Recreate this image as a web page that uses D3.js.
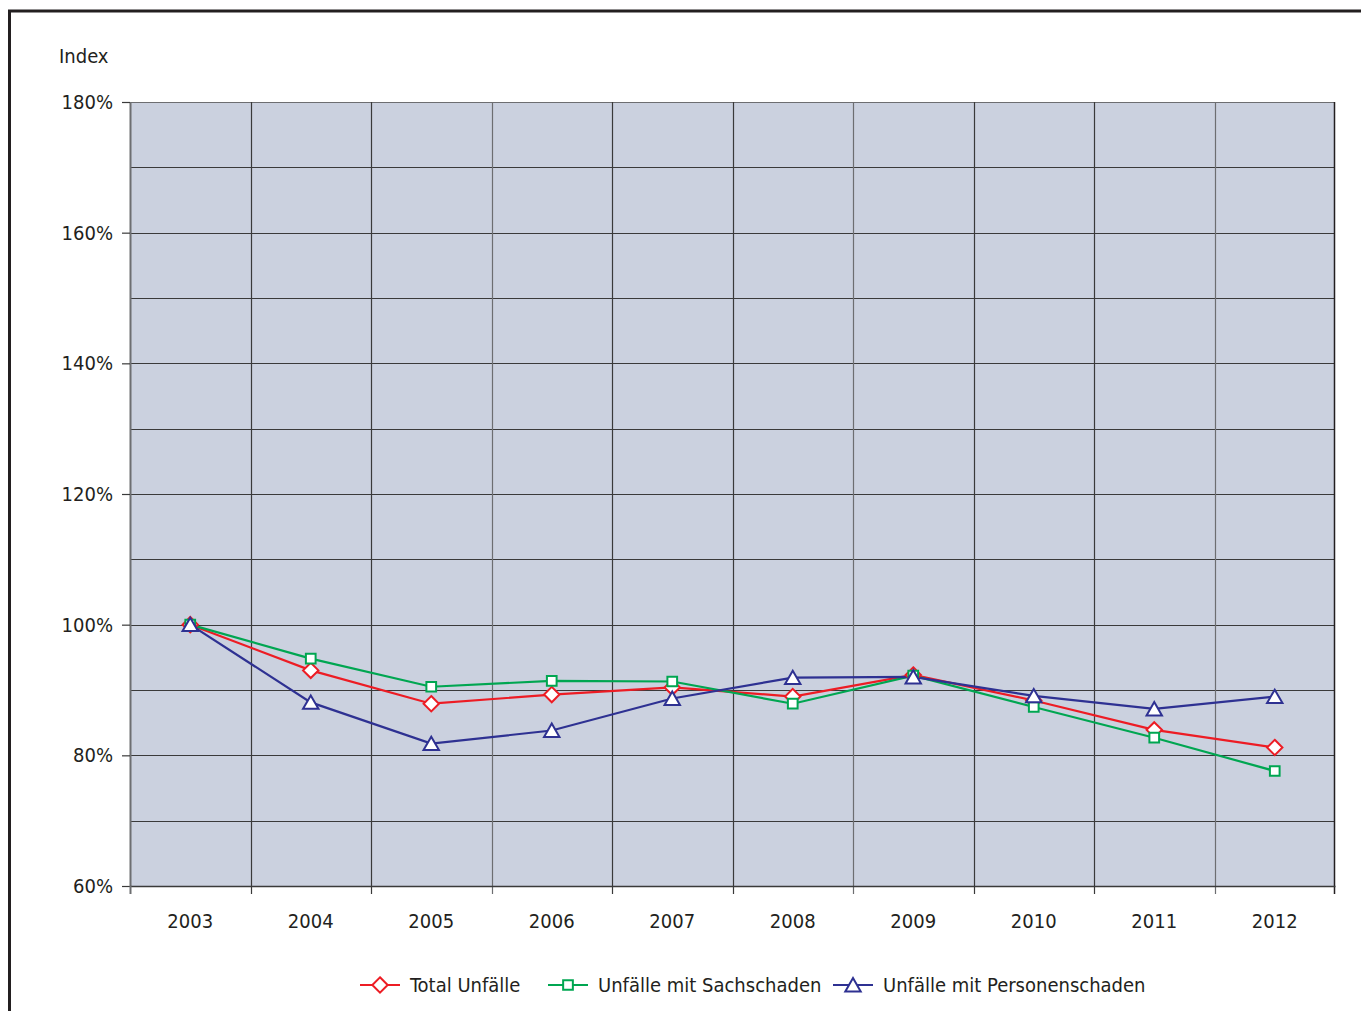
<!DOCTYPE html>
<html>
<head>
<meta charset="utf-8">
<script src="https://cdn.jsdelivr.net/npm/d3@7"></script>
<style>
  body { margin: 0; background: #fff; }
  text { font-family: "DejaVu Sans Condensed", Roboto, sans-serif; fill: #231f20; }
</style>
</head>
<body>
<div id="chart"></div>
<script>
const years = ["2003", "2004", "2005", "2006", "2007", "2008", "2009", "2010", "2011", "2012"];
const total = [100, 93.0, 87.9, 89.3, 90.4, 89.0, 92.3, 88.4, 83.9, 81.2];
const sach = [100, 94.8, 90.5, 91.4, 91.3, 87.9, 92.2, 87.4, 82.7, 77.6];
const personen = [100, 88.1, 81.8, 83.8, 88.7, 91.9, 92.0, 89.1, 87.1, 89.0];
const yTicks = [60, 80, 100, 120, 140, 160, 180];

const series = [
  { name: "Total Unfälle", values: total, color: "#ed1c24", shape: "diamond" },
  { name: "Unfälle mit Sachschaden", values: sach, color: "#00a651", shape: "square" },
  { name: "Unfälle mit Personenschaden", values: personen, color: "#2e3192", shape: "triangle" }
];

const font = "'DejaVu Sans Condensed', Roboto, sans-serif";
const fontSize = "20px";

const width = 1361, height = 1011;
const margin = { top: 102, right: 26, bottom: 125, left: 130 };
const innerWidth = width - margin.left - margin.right;
const innerHeight = height - margin.top - margin.bottom;

const svg = d3.select("#chart").append("svg")
  .attr("width", width)
  .attr("height", height);

// outer frame
svg.append("path")
  .attr("d", `M${width + 5},11 L9.5,11 L9.5,${height + 5}`)
  .attr("fill", "none")
  .attr("stroke", "#231f20")
  .attr("stroke-width", 3);

const g = svg.append("g").attr("transform", `translate(${margin.left},${margin.top})`);

const x = d3.scaleBand().domain(years).range([0, innerWidth]);
const y = d3.scaleLinear().domain([60, 180]).range([innerHeight, 0]);

g.append("rect")
  .attr("width", innerWidth)
  .attr("height", innerHeight)
  .attr("fill", "#cbd1df");

// horizontal grid every 10%
g.selectAll(".hgrid")
  .data(d3.range(70, 181, 10))
  .join("line")
  .attr("x1", 0).attr("x2", innerWidth)
  .attr("y1", d => Math.round(y(d)) + 0.5).attr("y2", d => Math.round(y(d)) + 0.5)
  .attr("stroke", d => d === 180 ? "#6d6e71" : "#3a3a3a")
  .attr("stroke-width", 1.2);

// vertical grid at category boundaries
g.selectAll(".vgrid")
  .data(years.slice(1))
  .join("line")
  .attr("x1", d => Math.round(x(d)) + 0.5).attr("x2", d => Math.round(x(d)) + 0.5)
  .attr("y1", 0).attr("y2", innerHeight + 8)
  .attr("stroke", (d, i) => i % 3 === 2 ? "#6d6e71" : "#3a3a3a")
  .attr("stroke-width", 1.2);

// right border
g.append("line")
  .attr("x1", innerWidth - 0.5).attr("x2", innerWidth - 0.5)
  .attr("y1", 0).attr("y2", innerHeight + 8)
  .attr("stroke", "#231f20").attr("stroke-width", 1.5);

// y axis
const yAxis = g.append("g")
  .call(d3.axisLeft(y).tickValues(yTicks).tickFormat(d => d + "%").tickSize(8).tickPadding(9).tickSizeOuter(0));
yAxis.select(".domain").attr("stroke", "#6d6e71").attr("stroke-width", 2);
yAxis.selectAll(".tick line").attr("stroke", "#3a3a3a").attr("stroke-width", 1.2);
yAxis.selectAll(".tick text").style("font-size", fontSize).attr("fill", "#231f20")
  .style("font-family", font);

// x axis
const xAxis = g.append("g")
  .attr("transform", `translate(0,${innerHeight})`)
  .call(d3.axisBottom(x).tickSize(0).tickPadding(28));
xAxis.select(".domain").attr("stroke", "#3a3a3a").attr("stroke-width", 1.5);
xAxis.selectAll(".tick text").style("font-size", fontSize).attr("fill", "#231f20")
  .style("font-family", font);
g.append("line")
  .attr("x1", 0.5).attr("x2", 0.5)
  .attr("y1", innerHeight).attr("y2", innerHeight + 8)
  .attr("stroke", "#6d6e71").attr("stroke-width", 2);

svg.append("text")
  .attr("x", 59).attr("y", 63)
  .style("font-size", fontSize)
  .text("Index");

const cx = d => x(d) + x.bandwidth() / 2;

const symbolFor = {
  diamond: d3.symbol().type(d3.symbolDiamond2).size(150),
  square: d3.symbol().type(d3.symbolSquare2).size(120),
  triangle: d3.symbol().type(d3.symbolTriangle2).size(170)
};

const line = d3.line()
  .x((d, i) => cx(years[i]))
  .y(d => y(d));

series.forEach(s => {
  g.append("path")
    .datum(s.values)
    .attr("d", line)
    .attr("fill", "none")
    .attr("stroke", s.color)
    .attr("stroke-width", 2.2);
});

series.forEach(s => {
  g.selectAll(null)
    .data(s.values)
    .join("path")
    .attr("d", symbolFor[s.shape])
    .attr("transform", (d, i) => `translate(${cx(years[i])},${y(d) + (s.shape === "triangle" ? 2 : 0)})`)
    .attr("fill", "#fff")
    .attr("stroke", s.color)
    .attr("stroke-width", 2);
});

// legend
const legendX = [360, 548, 833];
const legend = svg.append("g").attr("transform", "translate(0,985)");
series.forEach((s, i) => {
  const lg = legend.append("g").attr("transform", `translate(${legendX[i]},0)`);
  lg.append("line").attr("x1", 0).attr("x2", 40).attr("y1", 0).attr("y2", 0)
    .attr("stroke", s.color).attr("stroke-width", 2);
  lg.append("path")
    .attr("d", symbolFor[s.shape])
    .attr("transform", `translate(20,${s.shape === "triangle" ? 2 : 0})`)
    .attr("fill", "#fff").attr("stroke", s.color).attr("stroke-width", 2);
  lg.append("text").attr("x", 50).attr("y", 7)
    .style("font-size", fontSize)
    .style("font-family", font)
    .text(s.name);
});
</script>
</body>
</html>
